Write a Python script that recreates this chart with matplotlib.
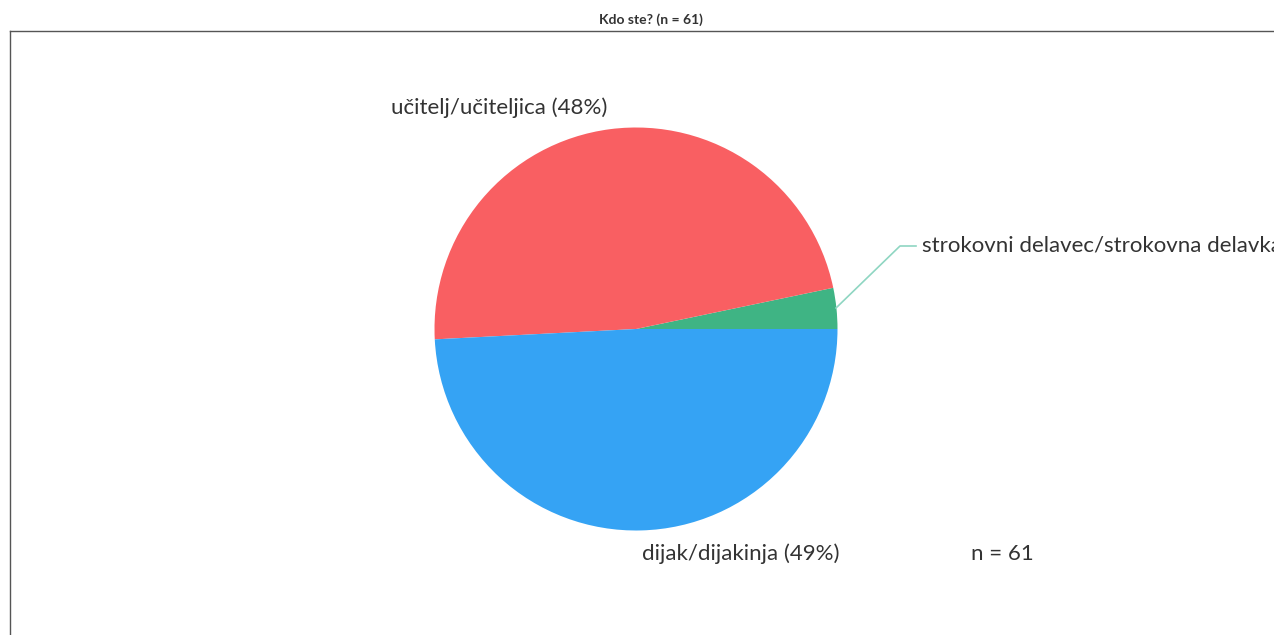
import matplotlib
matplotlib.use("Agg")
import matplotlib.pyplot as plt
from matplotlib.lines import Line2D

categories = ["strokovni delavec/strokovna delavka", "učitelj/učiteljica", "dijak/dijakinja"]
counts = [2, 29, 30]
colors = ["#3fb484", "#f95f62", "#35a3f4"]
title = "Kdo ste? (n = 61)"

W, H = 1274, 635
n = sum(counts)
pcts = [round(c / n * 100) for c in counts]

plt.rcParams['font.family'] = ['Lato', 'DejaVu Sans']
fig = plt.figure(figsize=(W / 100, H / 100), dpi=100)
ax = fig.add_axes([0, 0, 1, 1])
ax.set_xlim(0, W)
ax.set_ylim(0, H)
ax.set_aspect('equal')
ax.axis('off')

cx, cy, r = 636, H - 329, 201.5
ax.pie(counts, colors=colors, startangle=0, counterclock=True,
       center=(cx, cy), radius=r, frame=False,
       wedgeprops=dict(linewidth=0))
ax.set_xlim(0, W)
ax.set_ylim(0, H)

# frame (extends beyond the figure on the right and bottom)
fig.add_artist(Line2D([10 / W, 10 / W], [0, 1 - 31 / H], color="#555555", lw=1))
fig.add_artist(Line2D([10 / W, 1], [1 - 31 / H, 1 - 31 / H], color="#555555", lw=1))

fs = 16
ax.text(499, H - 108, f"{categories[1]} ({pcts[1]}%)", ha='center', va='center',
        fontsize=fs, color="#333333")
ax.text(741, H - 554, f"{categories[2]} ({pcts[2]}%)", ha='center', va='center',
        fontsize=fs, color="#333333")
ax.text(922, H - 246, f"{categories[0]} ({pcts[0]}%)", ha='left', va='center',
        fontsize=fs, color="#333333", clip_on=False)
ax.plot([836, 900, 916], [H - 308, H - 246, H - 246], color="#8fd6c2", lw=1.2)
ax.text(1002, H - 554, f"n = {n}", ha='center', va='center', fontsize=fs, color="#333333")

fig.text(651 / W, 1 - 20 / H, title, ha='center', va='center', fontsize=10,
         fontweight='bold', color="#333333")

fig.savefig("out.png", dpi=100)
